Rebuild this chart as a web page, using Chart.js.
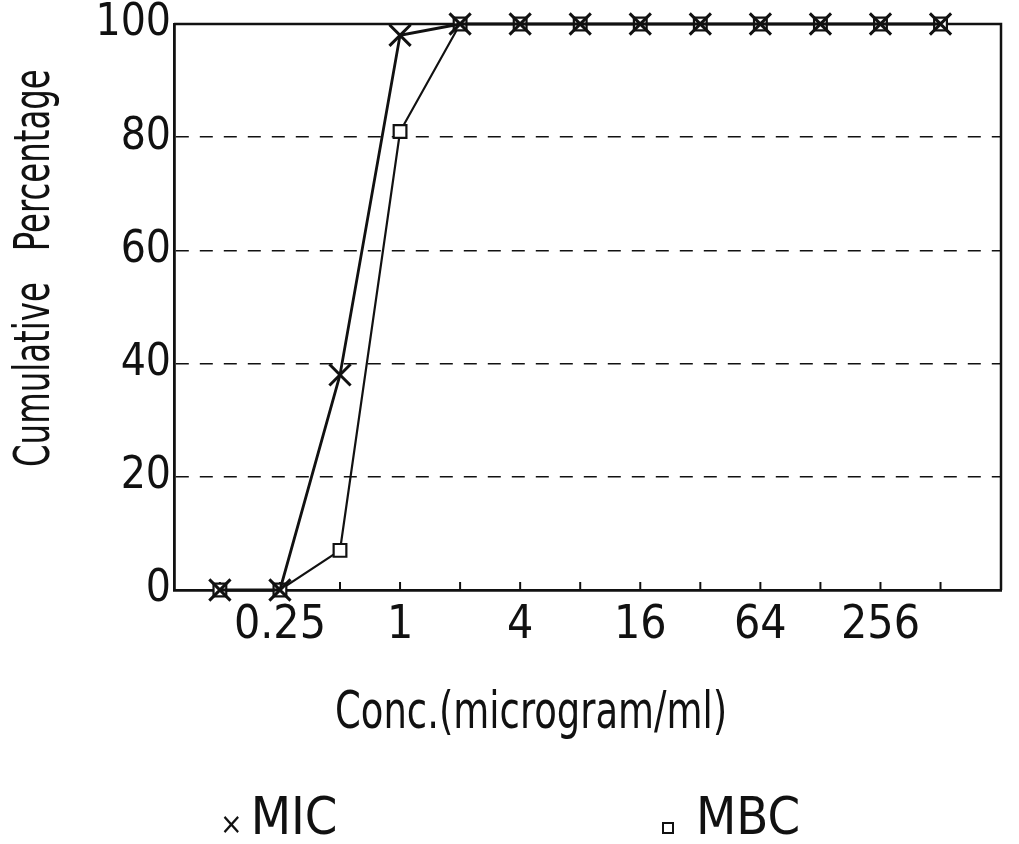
<!DOCTYPE html>
<html>
<head>
<meta charset="utf-8">
<title>Cumulative Percentage - MIC / MBC</title>
<script src="https://cdn.jsdelivr.net/npm/chart.js@4.4.7/dist/chart.umd.min.js"></script>
<style>
  html, body { margin: 0; padding: 0; background: #fff; }
  #wrap {
    position: relative; width: 1019px; height: 844px; overflow: hidden;
    font-family: 'Liberation Sans Narrow', 'DejaVu Sans Condensed', sans-serif; color: #111;
  }
  #chart { position: absolute; left: 0; top: 0; }
  /* 原図は細長い書体なので横方向だけ縮める */
  #xTitle {
    position: absolute; left: 335px; top: 684px; font-size: 52px; line-height: 1; white-space: nowrap;
    transform-origin: 0 0; transform: scaleX(0.79);
  }
  #yTitle {
    position: absolute; left: 7px; top: 467px; font-size: 50px; line-height: 1; white-space: pre;
    transform-origin: 0 0; transform: rotate(-90deg) scaleX(0.72);
  }
  .legend-item { position: absolute; top: 790px; font-size: 52px; line-height: 1; white-space: nowrap; }
  .legend-item.mic { left: 220px; }
  .legend-item.mbc { left: 662px; }
  .mark-cross { font-size: 30px; margin-right: 8px; }
  .mark-square {
    display: inline-block; width: 8px; height: 8px; border: 2px solid #111;
    margin-right: 22px; vertical-align: baseline;
  }
</style>
</head>
<body>
<div id="wrap">
  <canvas id="chart" width="1019" height="844"></canvas>
  <div id="yTitle"></div>
  <div id="xTitle"></div>
  <div id="legend"></div>
</div>
<script>
// ===== データ =====
const concentrations = [0.125, 0.25, 0.5, 1, 2, 4, 8, 16, 32, 64, 128, 256, 512];
const micValues = [0, 0, 38, 98, 100, 100, 100, 100, 100, 100, 100, 100, 100];
const mbcValues = [0, 0, 7, 81, 100, 100, 100, 100, 100, 100, 100, 100, 100];
const seriesNames = ['MIC', 'MBC'];
const xTickValues = [0.125, 0.25, 0.5, 1, 2, 4, 8, 16, 32, 64, 128, 256, 512];
const xTickLabels = ['0.25', '1', '4', '16', '64', '256'];
const yTickValues = [0, 20, 40, 60, 80, 100];
const xTitle = 'Conc.(microgram/ml)';
const yTitle = 'Cumulative   Percentage';

const INK = '#111';
const FONT = "'Liberation Sans Narrow', 'DejaVu Sans Condensed', sans-serif";

// ===== 枠線と内向きの目盛り =====
const frameAndTicks = {
  id: 'frameAndTicks',
  beforeDatasetsDraw(chart) {
    const { ctx, chartArea: a } = chart;
    const x = chart.scales.x;
    ctx.save();
    ctx.strokeStyle = INK;
    ctx.lineWidth = 2.5;
    ctx.beginPath();
    ctx.moveTo(a.left, a.top);
    ctx.lineTo(a.right, a.top);
    ctx.lineTo(a.right, a.bottom);
    ctx.stroke();
    ctx.lineWidth = 2;
    x.ticks.forEach(t => {
      const px = x.getPixelForValue(t.value);
      ctx.beginPath();
      ctx.moveTo(px, a.bottom);
      ctx.lineTo(px, a.bottom - 8);
      ctx.stroke();
    });
    ctx.restore();
  }
};

function toPoints(values) {
  return concentrations.map((c, i) => ({ x: c, y: values[i] }));
}

function createChart() {
  const ctx = document.getElementById('chart').getContext('2d');
  new Chart(ctx, {
    type: 'line',
    data: {
      datasets: [
        {
          label: seriesNames[0],
          data: toPoints(micValues),
          borderColor: INK,
          borderWidth: 2.8,
          pointStyle: 'crossRot',
          pointRadius: 15,
          pointBorderWidth: 3,
          pointBorderColor: INK,
          tension: 0,
          clip: false
        },
        {
          label: seriesNames[1],
          data: toPoints(mbcValues),
          borderColor: INK,
          borderWidth: 2.2,
          pointStyle: 'rect',
          pointRadius: 9,
          pointBorderWidth: 2.2,
          pointBorderColor: INK,
          pointBackgroundColor: '#fff',
          tension: 0,
          clip: false
        }
      ]
    },
    options: {
      responsive: false,
      animation: false,
      devicePixelRatio: 1,
      layout: { padding: { left: 0, top: 24, right: 17, bottom: 174 } },
      plugins: {
        legend: { display: false },
        tooltip: { enabled: false }
      },
      scales: {
        x: {
          type: 'logarithmic',
          bounds: 'data',
          min: 0.0736,
          max: 1029,
          afterBuildTicks: s => { s.ticks = xTickValues.map(v => ({ value: v })); },
          afterFit: s => { s.height = 80; },
          ticks: {
            autoSkip: false,
            maxRotation: 0,
            padding: 13,
            color: INK,
            font: { family: FONT, size: 46, lineHeight: 1 },
            callback: v => (xTickLabels.includes(String(v)) ? String(v) : '')
          },
          grid: { display: false, drawTicks: false },
          border: { color: INK, width: 2.8 }
        },
        y: {
          min: 0,
          max: 100,
          afterBuildTicks: s => { s.ticks = yTickValues.map(v => ({ value: v })); },
          afterFit: s => { s.width = 174; },
          ticks: {
            padding: 3,
            color: INK,
            font: { family: FONT, size: 44, lineHeight: 0.9 }
          },
          grid: { color: INK, lineWidth: 1.6, drawTicks: false },
          border: { color: INK, width: 2.8, dash: [13, 11] }
        }
      }
    },
    plugins: [frameAndTicks]
  });
}

// ===== 軸タイトルと凡例（HTML） =====
function buildLabels() {
  document.getElementById('xTitle').textContent = xTitle;
  document.getElementById('yTitle').textContent = yTitle;

  const legend = document.getElementById('legend');
  seriesNames.forEach((name, i) => {
    const item = document.createElement('div');
    item.className = 'legend-item ' + name.toLowerCase();
    const mark = document.createElement('span');
    if (i === 0) {
      mark.className = 'mark-cross';
      mark.textContent = '×';
    } else {
      mark.className = 'mark-square';
    }
    item.appendChild(mark);
    item.appendChild(document.createTextNode(name));
    legend.appendChild(item);
  });
}

createChart();
buildLabels();
</script>
</body>
</html>
